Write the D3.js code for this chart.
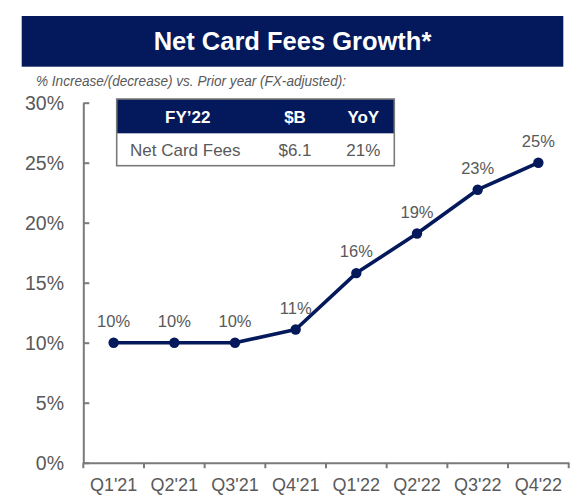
<!doctype html>

<meta charset="utf-8">
<title>Net Card Fees Growth</title>
<script src="https://cdn.jsdelivr.net/npm/d3@7"></script>
<style>
  body { margin: 0; background: #fff; }
  text { font-family: "Liberation Sans", Arial, sans-serif; }
</style>

<body>
<svg id="chart" width="580" height="504"></svg>
<script>

// data
var quarters = ["Q1'21", "Q2'21", "Q3'21", "Q4'21", "Q1'22", "Q2'22", "Q3'22", "Q4'22"];
var growth = [10, 10, 10, 11.1, 15.8, 19.1, 22.75, 25];
var growthLabels = ["10%", "10%", "10%", "11%", "16%", "19%", "23%", "25%"];
var yTicks = [0, 5, 10, 15, 20, 25, 30];
var tableHead = ["FY\u201922", "$B", "YoY"];
var tableRow = ["Net Card Fees", "$6.1", "21%"];

var navy = "#03195b";
var grey = "#595959";
var axisGrey = "#7a7a7a";

var svg = d3.select("#chart");

// title banner
svg.append("rect")
    .attr("x", 21.7).attr("y", 16)
    .attr("width", 541.6).attr("height", 50.7)
    .attr("fill", navy);

svg.append("text")
    .attr("x", 292.5).attr("y", 49.5)
    .attr("text-anchor", "middle")
    .attr("fill", "#fff")
    .style("font-size", "25.5px")
    .style("font-weight", "bold")
    .text("Net Card Fees Growth*");

svg.append("text")
    .attr("x", 36).attr("y", 86)
    .attr("fill", grey)
    .attr("textLength", 310)
    .attr("lengthAdjust", "spacingAndGlyphs")
    .style("font-size", "15.5px")
    .style("font-style", "italic")
    .text("% Increase/(decrease) vs. Prior year (FX-adjusted):");

// scales
var x = d3.scaleBand().domain(quarters).range([83.3, 568.7]);
var y = d3.scaleLinear().domain([0, 30]).range([462.7, 102.7]);

// y axis, ticks pointing inward
var yAxis = svg.append("g")
    .attr("transform", "translate(83.3,0)")
    .call(d3.axisLeft(y).tickValues(yTicks).tickSize(-6).tickSizeOuter(0)
        .tickPadding(19.3).tickFormat(function(d) { return d + "%"; }));

yAxis.selectAll("path, line").attr("stroke", axisGrey).attr("stroke-width", 2);
yAxis.selectAll("text")
    .attr("fill", grey)
    .attr("dy", "0.36em")
    .style("font-size", "19.5px")
    .style("font-family", "'Liberation Sans', Arial, sans-serif");

// x axis, labels centred in bands, ticks on band edges
var xAxis = svg.append("g")
    .attr("transform", "translate(0," + y(0) + ")")
    .call(d3.axisBottom(x).tickSize(0).tickSizeOuter(0).tickPadding(16));

xAxis.select("path").attr("stroke", axisGrey).attr("stroke-width", 2);
xAxis.selectAll("text")
    .attr("fill", grey)
    .style("font-size", "18px")
    .style("font-family", "'Liberation Sans', Arial, sans-serif");

var edges = quarters.map(function(q) { return x(q); }).concat([x.range()[1]]);
xAxis.selectAll("line.edge")
    .data(edges)
    .enter().append("line")
    .attr("class", "edge")
    .attr("x1", function(d) { return d; })
    .attr("x2", function(d) { return d; })
    .attr("y1", 0).attr("y2", 5.5)
    .attr("stroke", axisGrey)
    .attr("stroke-width", 2);

// line + markers
var pts = quarters.map(function(q, i) {
  return { q: q, v: growth[i], label: growthLabels[i] };
});

var line = d3.line()
    .x(function(d) { return x(d.q) + x.bandwidth() / 2; })
    .y(function(d) { return y(d.v); });

svg.append("path")
    .datum(pts)
    .attr("d", line)
    .attr("fill", "none")
    .attr("stroke", navy)
    .attr("stroke-width", 3.6)
    .attr("stroke-linejoin", "round");

svg.selectAll("circle.pt")
    .data(pts)
    .enter().append("circle")
    .attr("class", "pt")
    .attr("cx", function(d) { return x(d.q) + x.bandwidth() / 2; })
    .attr("cy", function(d) { return y(d.v); })
    .attr("r", 5.2)
    .attr("fill", navy);

svg.selectAll("text.val")
    .data(pts)
    .enter().append("text")
    .attr("class", "val")
    .attr("x", function(d) { return x(d.q) + x.bandwidth() / 2; })
    .attr("y", function(d) { return y(d.v) - 16; })
    .attr("text-anchor", "middle")
    .attr("fill", grey)
    .style("font-size", "16.5px")
    .text(function(d) { return d.label; });

// FY'22 inset table
var tbl = svg.append("g");
var colX = [187.7, 295, 363.3];

tbl.append("rect")
    .attr("x", 116.7).attr("y", 99)
    .attr("width", 277.6).attr("height", 66.7)
    .attr("fill", "#fff");

tbl.append("rect")
    .attr("x", 116.7).attr("y", 99)
    .attr("width", 277.6).attr("height", 34.3)
    .attr("fill", navy);

tbl.append("rect")
    .attr("x", 116.7).attr("y", 99)
    .attr("width", 277.6).attr("height", 66.7)
    .attr("fill", "none")
    .attr("stroke", axisGrey)
    .attr("stroke-width", 1.6);

tbl.selectAll("text.head")
    .data(tableHead)
    .enter().append("text")
    .attr("class", "head")
    .attr("x", function(d, i) { return colX[i]; })
    .attr("y", 122.5)
    .attr("text-anchor", "middle")
    .attr("fill", "#fff")
    .style("font-size", "17px")
    .style("font-weight", "bold")
    .text(function(d) { return d; });

tbl.selectAll("text.cell")
    .data(tableRow)
    .enter().append("text")
    .attr("class", "cell")
    .attr("x", function(d, i) { return i == 0 ? 130 : colX[i]; })
    .attr("y", 155.7)
    .attr("text-anchor", function(d, i) { return i == 0 ? "start" : "middle"; })
    .attr("fill", grey)
    .style("font-size", "17px")
    .text(function(d) { return d; });

</script>
</body>
